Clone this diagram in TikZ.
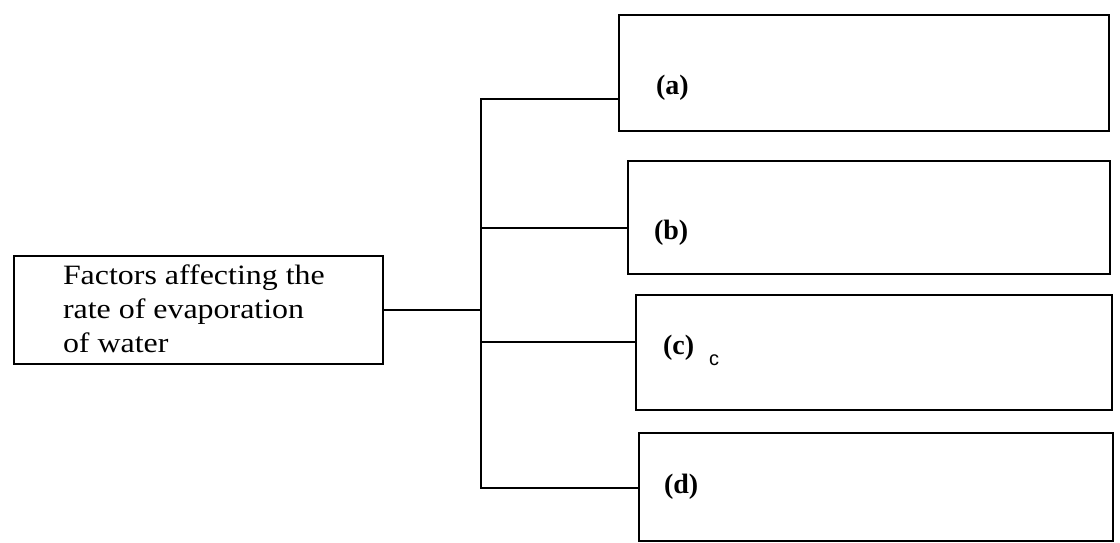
\documentclass[tikz,border=0pt]{standalone}
\usepackage{fontspec}
\setmainfont{Liberation Serif}
\newfontfamily\widserif[FakeStretch=1.14]{Liberation Serif}
\newfontfamily\smallsans{Liberation Sans}
\begin{document}
\begin{tikzpicture}[x=1pt,y=-1pt,
  every path/.style={line width=2pt},
  boxshape/.style={draw=black,line width=2pt,rectangle,inner sep=0pt,anchor=north west},
  maintext/.style={inner sep=0pt,anchor=base west,align=left,font=\widserif\fontsize{28}{34}\selectfont},
  lbl/.style={inner sep=0pt,anchor=base west,font=\bfseries\fontsize{28}{34}\selectfont},
  conn/.style={draw=black,line width=2pt,line cap=rect}]
\useasboundingbox (0,0) rectangle (1120,542);
% main box
\node[boxshape,minimum width=369pt,minimum height=108pt] (main) at (13,255) {};
% multi-line node: base anchor is the baseline of the last line
\node[maintext] (maintxt) at (62,352) {Factors affecting the\\rate of evaporation\\of water};
% answer boxes
\node[boxshape,minimum width=490pt,minimum height=116pt] (A) at (618,14) {};
\node[boxshape,minimum width=482pt,minimum height=113pt] (B) at (627,160) {};
\node[boxshape,minimum width=476pt,minimum height=115pt] (C) at (635,294) {};
\node[boxshape,minimum width=474pt,minimum height=108pt] (D) at (638,432) {};
% labels
\node[lbl] (la) at (655,94) {(a)};
\node[lbl] (lb) at (653,239) {(b)};
\node[lbl] (lc) at (662,354) {(c)};
\node[lbl] (ld) at (663,493) {(d)};
\node[inner sep=0pt,font=\smallsans\fontsize{20}{20}\selectfont] (sc) at (714,360) {c};
% connectors
\coordinate (ja) at (481,99);
\coordinate (jb) at (481,228);
\coordinate (jc) at (481,342);
\coordinate (jd) at (481,488);
\draw[conn] (ja) -- (jd);
\draw[conn] (main.east) -- (main.east -| ja);
\draw[conn] (ja) -- (ja -| A.west);
\draw[conn] (jb) -- (jb -| B.west);
\draw[conn] (jc) -- (jc -| C.west);
\draw[conn] (jd) -- (jd -| D.west);
\end{tikzpicture}
\end{document}
